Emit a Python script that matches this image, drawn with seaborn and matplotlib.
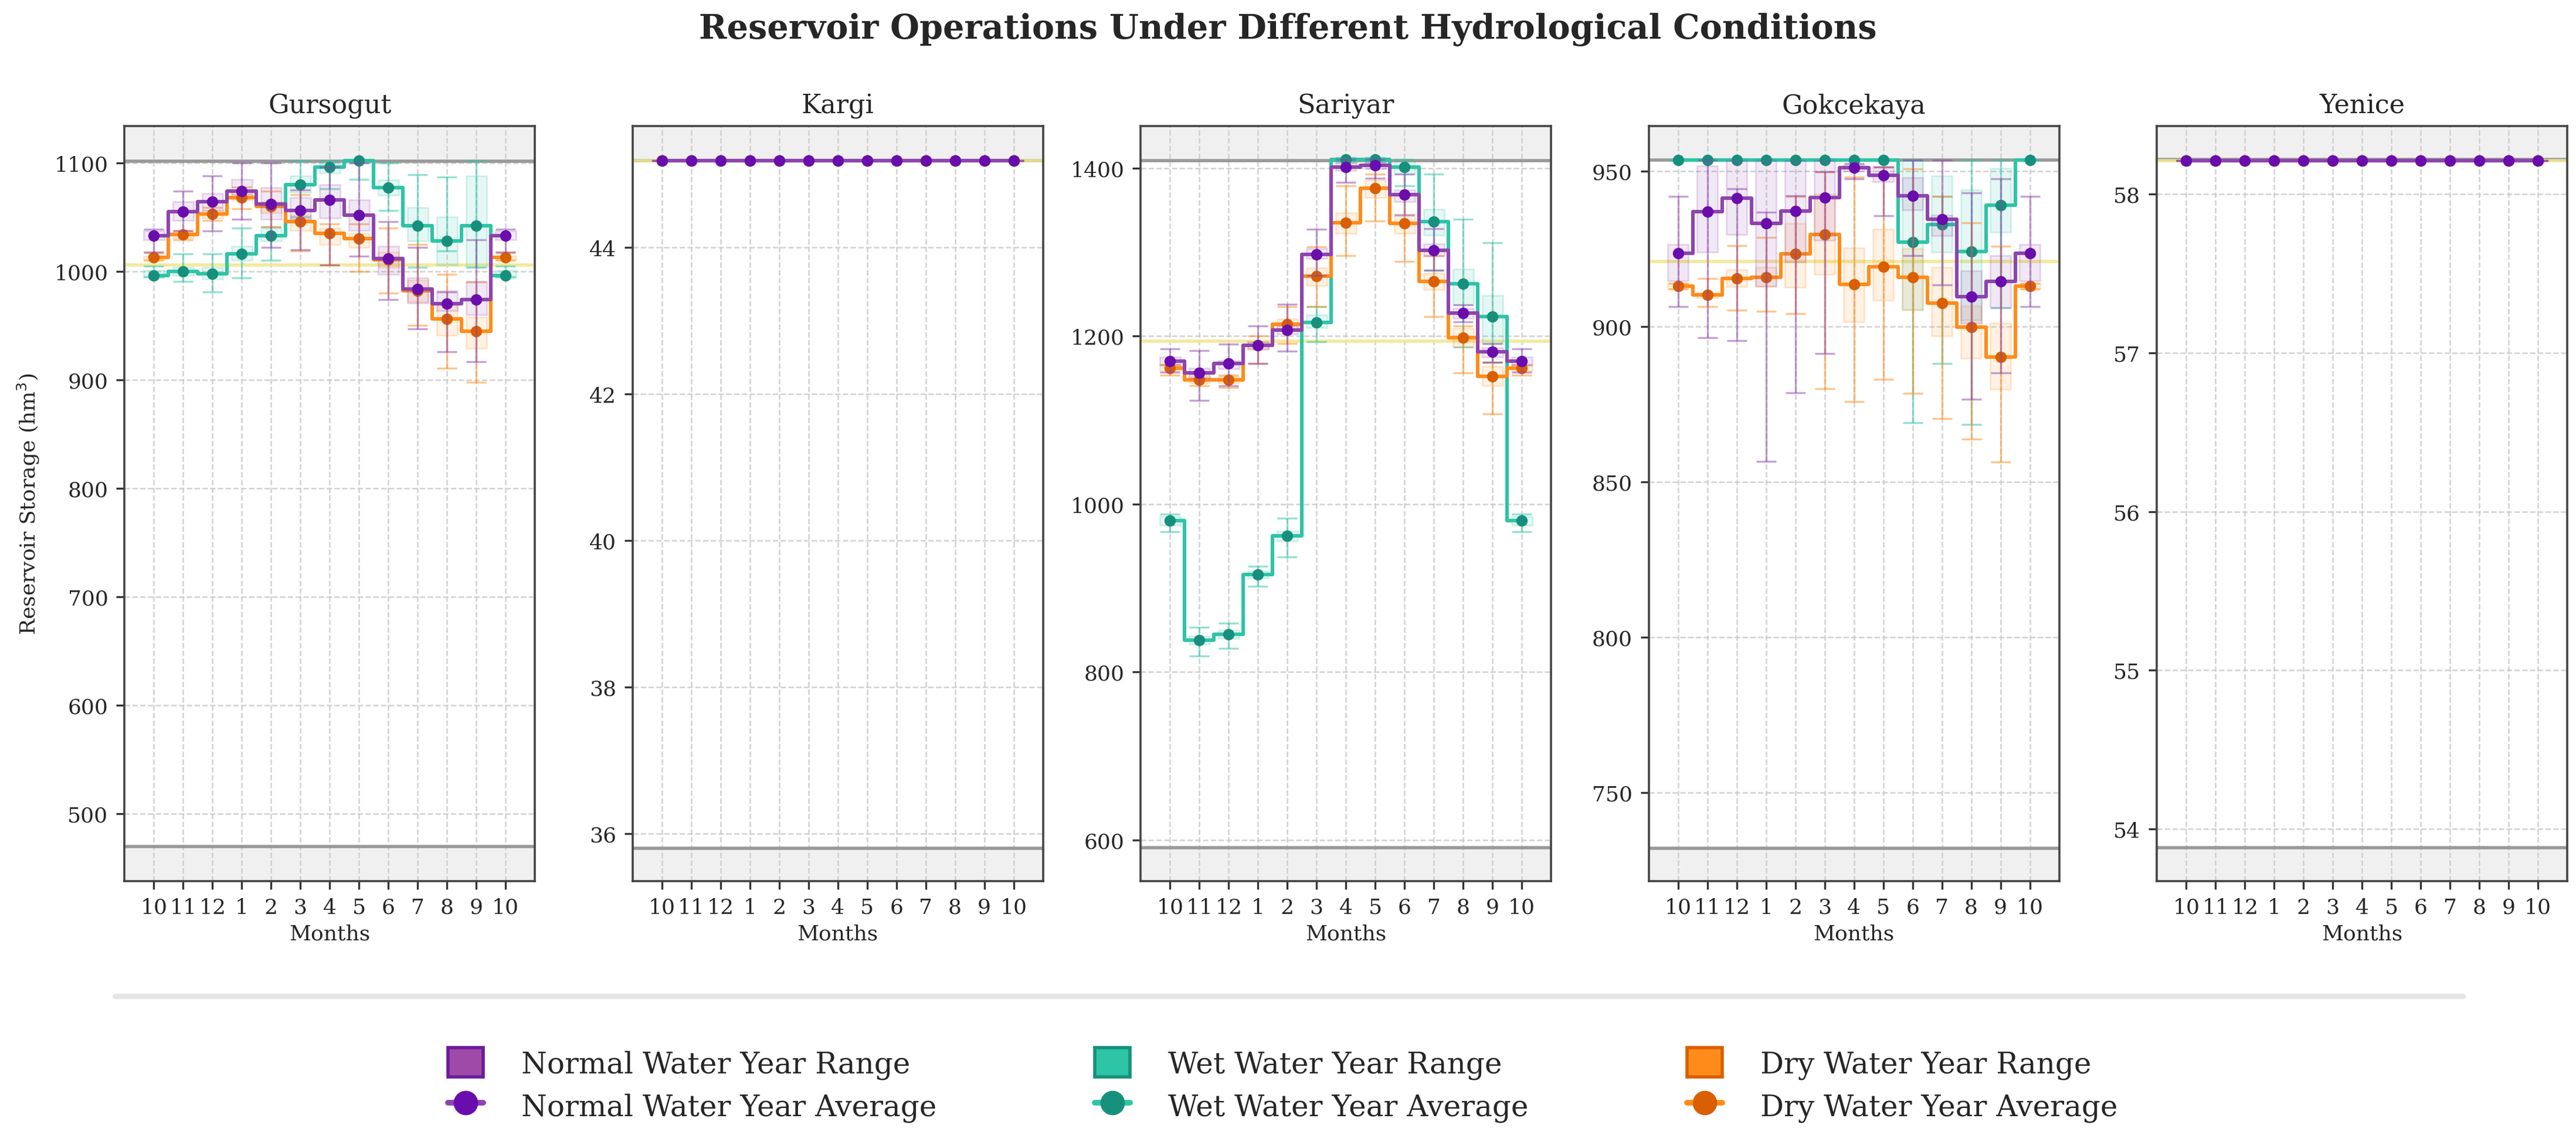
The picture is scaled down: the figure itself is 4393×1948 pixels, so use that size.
import numpy as np
import matplotlib.pyplot as plt
from matplotlib.patches import Patch
from matplotlib.lines import Line2D
from matplotlib.ticker import MultipleLocator
from matplotlib.colors import to_rgba
import seaborn as sns

sns.set_theme(style="ticks")
plt.rcParams['font.family'] = ['DejaVu Serif']

# --- data -------------------------------------------------------------
months = ['10', '11', '12', '1', '2', '3', '4', '5', '6', '7', '8', '9', '10']
reservoirs = ['Gursogut', 'Kargi', 'Sariyar', 'Gokcekaya', 'Yenice']
max_storage = [1101.5, 45.19, 1409, 953.6, 58.22]
min_storage = [470, 35.8, 591, 732, 53.88]
target_level = [1006, 45.19, 1194, 921, 58.21]

# Gursogut
gur_normal_mean = [1033, 1055, 1064, 1074, 1062, 1056, 1066, 1052, 1012, 984, 970, 974, 1033]
gur_normal_q1 = [1029, 1047, 1056, 1071, 1048, 1048, 1049, 1038, 997, 971, 964, 960, 1029]
gur_normal_q3 = [1037, 1064, 1072, 1085, 1077, 1068, 1080, 1066, 1023, 994, 982, 991, 1037]
gur_normal_lo = [1018, 1037, 1037, 1048, 1022, 1020, 1006, 1014, 974, 947, 926, 917, 1018]
gur_normal_hi = [1039, 1074, 1088, 1100, 1100, 1075, 1096, 1100, 1046, 1022, 981, 1029, 1039]

gur_wet_mean = [996, 1000, 998, 1016, 1033, 1080, 1096, 1102, 1077, 1042, 1028, 1042, 996]
gur_wet_q1 = [994, 996, 993, 1010, 1028, 1073, 1091, 1100, 1070, 1028, 1006, 1004, 994]
gur_wet_q3 = [1001, 1004, 1004, 1023, 1040, 1088, 1100, 1103, 1084, 1059, 1050, 1088, 1001]
gur_wet_lo = [995, 991, 981, 994, 1010, 1050, 1076, 1085, 1056, 1004, 1019, 1004, 995]
gur_wet_hi = [1005, 1016, 1016, 1040, 1041, 1102, 1102, 1102, 1100, 1089, 1087, 1102, 1005]

gur_dry_mean = [1013, 1034, 1053, 1068, 1060, 1046, 1035, 1030, 1011, 982, 956, 945, 1013]
gur_dry_q1 = [1011, 1031, 1049, 1066, 1054, 1038, 1025, 1022, 1004, 972, 941, 929, 1011]
gur_dry_q3 = [1014, 1036, 1056, 1072, 1064, 1052, 1040, 1035, 1018, 992, 969, 958, 1014]
gur_dry_lo = [1010, 1029, 1047, 1058, 1041, 1019, 1006, 1000, 980, 950, 911, 898, 1010]
gur_dry_hi = [1017, 1038, 1059, 1078, 1074, 1071, 1044, 1044, 1040, 1025, 997, 990, 1017]

# Kargi (all scenarios identical)
kar_mean = [45.19, 45.19, 45.19, 45.19, 45.19, 45.19, 45.19, 45.19, 45.19, 45.19, 45.19, 45.19, 45.19]

# Sariyar
sar_normal_mean = [1170, 1156, 1167, 1189, 1207, 1297, 1401, 1403, 1368, 1302, 1227, 1181, 1170]
sar_normal_q1 = [1165, 1150, 1161, 1184, 1202, 1292, 1397, 1399, 1360, 1295, 1221, 1175, 1165]
sar_normal_q3 = [1175, 1162, 1171, 1193, 1212, 1304, 1406, 1407, 1374, 1310, 1233, 1186, 1175]
sar_normal_lo = [1157, 1123, 1141, 1167, 1182, 1272, 1383, 1388, 1344, 1278, 1217, 1169, 1157]
sar_normal_hi = [1185, 1183, 1190, 1212, 1238, 1327, 1410, 1410, 1393, 1328, 1237, 1191, 1185]

sar_wet_mean = [980, 838, 845, 916, 962, 1216, 1410, 1410, 1401, 1336, 1262, 1223, 980]
sar_wet_q1 = [975, 833, 840, 912, 956, 1210, 1406, 1406, 1393, 1320, 1237, 1190, 975]
sar_wet_q3 = [985, 843, 850, 920, 968, 1225, 1412, 1412, 1408, 1351, 1280, 1248, 985]
sar_wet_lo = [967, 819, 828, 902, 937, 1193, 1408, 1408, 1379, 1278, 1187, 1169, 967]
sar_wet_hi = [988, 853, 858, 926, 983, 1235, 1412, 1412, 1410, 1393, 1339, 1311, 988]

sar_dry_mean = [1162, 1148, 1148, 1189, 1214, 1271, 1335, 1376, 1334, 1265, 1198, 1152, 1162]
sar_dry_q1 = [1158, 1144, 1144, 1185, 1208, 1260, 1322, 1365, 1322, 1255, 1187, 1141, 1158]
sar_dry_q3 = [1166, 1152, 1152, 1193, 1220, 1281, 1347, 1386, 1345, 1275, 1209, 1164, 1166]
sar_dry_lo = [1153, 1141, 1139, 1167, 1191, 1235, 1296, 1337, 1289, 1223, 1156, 1107, 1153]
sar_dry_hi = [1166, 1155, 1153, 1200, 1235, 1306, 1379, 1393, 1369, 1296, 1212, 1169, 1166]

# Gokcekaya
gok_normal_mean = [923.6, 937.0, 941.3, 933.2, 937.2, 941.5, 951.1, 948.7, 942.1, 934.5, 909.5, 914.5, 923.6]
gok_normal_q1 = [914.7, 923.9, 929.6, 913.0, 920.7, 927.7, 950.0, 946.5, 937.5, 929.3, 901.1, 906.0, 914.7]
gok_normal_q3 = [926.3, 951.6, 953.5, 953.5, 953.5, 953.5, 952.0, 951.4, 947.8, 935.9, 917.9, 922.8, 926.3]
gok_normal_lo = [906.3, 896.4, 895.4, 856.5, 878.6, 891.3, 947.5, 935.7, 922.8, 913.3, 876.6, 885.0, 906.3]
gok_normal_hi = [941.8, 953.6, 944.3, 936.7, 942.0, 949.8, 952.5, 951.3, 953.6, 953.6, 943.0, 947.5, 941.8]

gok_wet_mean = [953.6, 953.6, 953.6, 953.6, 953.6, 953.6, 953.6, 953.6, 927.2, 932.8, 924.2, 939.1, 953.6]
gok_wet_q1 = [953.6, 953.6, 953.6, 953.6, 953.6, 953.6, 953.6, 953.6, 905.4, 923.9, 902.0, 930.4, 953.6]
gok_wet_q3 = [953.6, 953.6, 953.6, 953.6, 953.6, 953.6, 953.6, 953.6, 953.6, 948.4, 944.0, 951.0, 953.6]
gok_wet_lo = [953.6, 953.6, 953.6, 953.6, 953.6, 953.6, 953.6, 953.6, 869.0, 888.0, 868.5, 906.0, 953.6]
gok_wet_hi = [953.6, 953.6, 953.6, 953.6, 953.6, 953.6, 953.6, 953.6, 953.6, 941.8, 953.6, 953.6, 953.6]

gok_dry_mean = [913.0, 910.1, 915.4, 915.8, 923.4, 929.6, 913.5, 919.3, 915.8, 907.6, 899.8, 890.2, 913.0]
gok_dry_q1 = [912.2, 909.2, 912.8, 912.8, 912.7, 916.8, 901.4, 908.5, 905.2, 896.9, 889.7, 879.7, 912.2]
gok_dry_q3 = [913.8, 911.0, 918.3, 919.0, 933.2, 942.6, 925.2, 931.3, 925.0, 919.0, 906.5, 901.1, 913.8]
gok_dry_lo = [912.0, 906.3, 905.2, 904.9, 904.1, 879.9, 875.9, 883.0, 878.5, 870.3, 863.8, 856.3, 912.0]
gok_dry_hi = [914.0, 915.4, 926.0, 928.6, 941.8, 949.7, 948.0, 951.3, 950.8, 941.8, 933.4, 925.9, 914.0]

# Yenice (all scenarios identical)
yen_mean = [58.21, 58.21, 58.21, 58.21, 58.21, 58.21, 58.21, 58.21, 58.21, 58.21, 58.21, 58.21, 58.21]

# (mean, q1, q3, lo, hi) per reservoir and scenario
series = {
    'Gursogut': {
        'normal': (gur_normal_mean, gur_normal_q1, gur_normal_q3, gur_normal_lo, gur_normal_hi),
        'wet': (gur_wet_mean, gur_wet_q1, gur_wet_q3, gur_wet_lo, gur_wet_hi),
        'dry': (gur_dry_mean, gur_dry_q1, gur_dry_q3, gur_dry_lo, gur_dry_hi),
    },
    'Kargi': {k: (kar_mean,) * 5 for k in ['normal', 'wet', 'dry']},
    'Sariyar': {
        'normal': (sar_normal_mean, sar_normal_q1, sar_normal_q3, sar_normal_lo, sar_normal_hi),
        'wet': (sar_wet_mean, sar_wet_q1, sar_wet_q3, sar_wet_lo, sar_wet_hi),
        'dry': (sar_dry_mean, sar_dry_q1, sar_dry_q3, sar_dry_lo, sar_dry_hi),
    },
    'Gokcekaya': {
        'normal': (gok_normal_mean, gok_normal_q1, gok_normal_q3, gok_normal_lo, gok_normal_hi),
        'wet': (gok_wet_mean, gok_wet_q1, gok_wet_q3, gok_wet_lo, gok_wet_hi),
        'dry': (gok_dry_mean, gok_dry_q1, gok_dry_q3, gok_dry_lo, gok_dry_hi),
    },
    'Yenice': {k: (yen_mean,) * 5 for k in ['normal', 'wet', 'dry']},
}

# --- style --------------------------------------------------------------
ylims = [(438, 1134), (35.35, 45.66), (551, 1450), (721.5, 964.5), (53.67, 58.43)]
ystep = [100, 2, 200, 50, 1]

line_colors = {'normal': '#8e44ad', 'wet': '#2ec4a6', 'dry': '#ff8c1a'}
marker_colors = {'normal': '#6a0dad', 'wet': '#16907c', 'dry': '#d95f02'}
patch_colors = {'normal': '#a04aa8', 'wet': '#2ec4a6', 'dry': '#ff8c1a'}
patch_edges = {'normal': '#6a1b9a', 'wet': '#16907c', 'dry': '#d95f02'}
labels = {'normal': 'Normal', 'wet': 'Wet', 'dry': 'Dry'}
draw_order = ['wet', 'dry', 'normal']

fig, axes = plt.subplots(1, 5, figsize=(21.965, 9.745), dpi=200)
fig.subplots_adjust(left=0.0483, right=0.9966, bottom=0.2283, top=0.8892, wspace=0.238)

x = np.arange(len(months))

for i, (ax, name) in enumerate(zip(axes, reservoirs)):
    lo_lim, hi_lim = ylims[i]
    ax.set_xlim(-1, 13)
    ax.set_ylim(lo_lim, hi_lim)

    # operating limits
    ax.axhspan(max_storage[i], hi_lim, color='#f0f0f0', zorder=0)
    ax.axhspan(lo_lim, min_storage[i], color='#f0f0f0', zorder=0)
    ax.axhline(max_storage[i], color='#999999', lw=2, zorder=1)
    ax.axhline(min_storage[i], color='#999999', lw=2, zorder=1)
    ax.axhline(target_level[i], color='#f0e68c', lw=2, alpha=0.85, zorder=1)

    for k, key in enumerate(draw_order):
        mean, q1, q3, lo, hi = [np.asarray(v, dtype=float) for v in series[name][key]]
        c = line_colors[key]
        z = 2 + k * 3
        ax.bar(x, q3 - q1, bottom=q1, width=0.7, facecolor=to_rgba(c, 0.12),
               edgecolor=to_rgba(c, 0.2), linewidth=1, zorder=z)
        ax.errorbar(x, mean, yerr=[mean - lo, hi - mean], fmt='none', ecolor=c,
                    alpha=0.5, elinewidth=1.2, capsize=6, capthick=1.2, zorder=z + 1)
        sns.lineplot(x=x, y=mean, ax=ax, color=c, lw=2.2, drawstyle='steps-mid',
                     marker='o', markersize=6.5, markerfacecolor=marker_colors[key],
                     markeredgecolor=marker_colors[key], markeredgewidth=0.5, zorder=z + 2)

    ax.set_title(name, fontsize=16, pad=8)
    ax.set_xticks(x)
    ax.set_xticklabels(months)
    ax.yaxis.set_major_locator(MultipleLocator(ystep[i]))
    ax.set_xlabel('Months', fontsize=13)
    ax.tick_params(labelsize=13, length=5, width=1.2, pad=5, color='#333333')
    ax.grid(True, linestyle='--', color='#cccccc', lw=0.9, alpha=0.9)
    for sp in ax.spines.values():
        sp.set_visible(True)
        sp.set_color('#444444')
        sp.set_linewidth(1.3)

axes[0].set_ylabel('Reservoir Storage (hm$^3$)', fontsize=13, labelpad=8)

fig.suptitle('Reservoir Operations Under Different Hydrological Conditions',
             fontsize=20.6, fontweight='bold', y=0.974, va='center')

fig.add_artist(Line2D([0.0446, 0.956], [0.128, 0.128], transform=fig.transFigure,
                      color='#e5e5e5', lw=3.3))

handles, texts = [], []
for key in ['normal', 'wet', 'dry']:
    handles.append(Patch(facecolor=patch_colors[key], edgecolor=patch_edges[key], lw=2))
    texts.append(f'{labels[key]} Water Year Range')
    handles.append(Line2D([0], [0], color=line_colors[key], lw=3.5, marker='o', markersize=14,
                          markerfacecolor=marker_colors[key], markeredgecolor=marker_colors[key]))
    texts.append(f'{labels[key]} Water Year Average')

fig.legend(handles, texts, loc='center', bbox_to_anchor=(0.498, 0.05), ncol=3,
           frameon=False, fontsize=18, handlelength=1.2, handleheight=1.15,
           handletextpad=1.3, columnspacing=5.4, labelspacing=0.4)

fig.savefig('out.png', dpi=200)
